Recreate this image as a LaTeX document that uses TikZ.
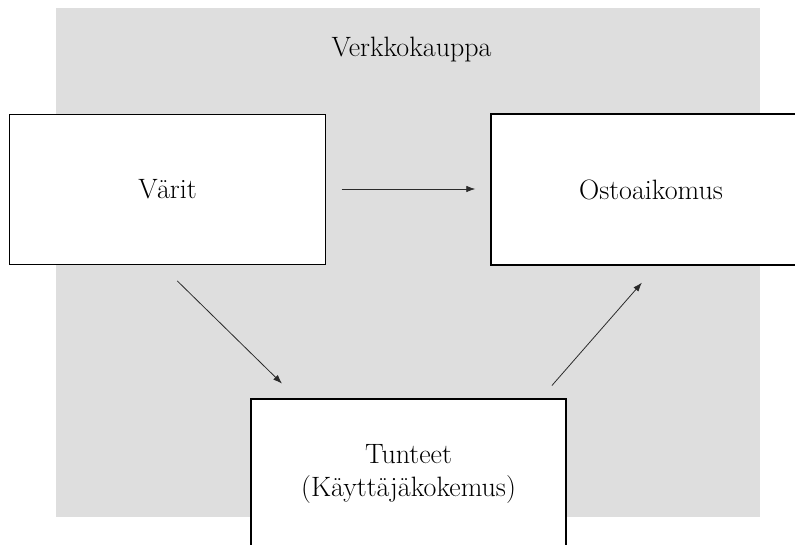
\documentclass[tikz,border=0pt]{standalone}
\usetikzlibrary{arrows.meta,calc}
\definecolor{bggray}{HTML}{DEDEDE}
\definecolor{arrowgray}{HTML}{2A2A2A}
\tikzset{
  boxnode/.style={draw=black,line width=1.4pt,fill=white,inner sep=0pt,align=center,
    font=\fontsize{28}{33}\selectfont},
  conn/.style={draw=arrowgray,line width=0.8pt,-{Latex[length=9pt,width=6.5pt]}},
  titletext/.style={font=\fontsize{28}{33}\selectfont,inner sep=0pt}
}
\begin{document}
\begin{tikzpicture}[x=1pt,y=-1pt]
\useasboundingbox (0,0) rectangle (795,545);
\clip (0,0) rectangle (795,545);
\fill[bggray] (56,8) rectangle (760,517);
\node[titletext] (title) at (411.5,50) {Verkkokauppa};
\node[boxnode,minimum width=316pt,minimum height=150.5pt] (varit) at (167.5,189.5) {Värit};
\node[boxnode,minimum width=320pt,minimum height=151pt] (osto) at (651,189.5) {Ostoaikomus};
\node[boxnode,minimum width=315pt,minimum height=150pt] (tunteet) at (408.5,474) {Tunteet\\(Käyttäjäkokemus)};
\draw[conn,shorten <=15.5pt,shorten >=15pt] ([yshift=0.5pt]varit.east) -- ([yshift=0.5pt]varit.east -| osto.west);
\draw[conn,shorten <=22pt,shorten >=21pt] ([xshift=-6pt]varit.south) -- ([xshift=-111.5pt]tunteet.north);
\draw[conn,shorten <=17pt,shorten >=22.5pt] ([xshift=132.25pt]tunteet.north) -- ([xshift=5.7pt]osto.south);
\end{tikzpicture}
\end{document}
